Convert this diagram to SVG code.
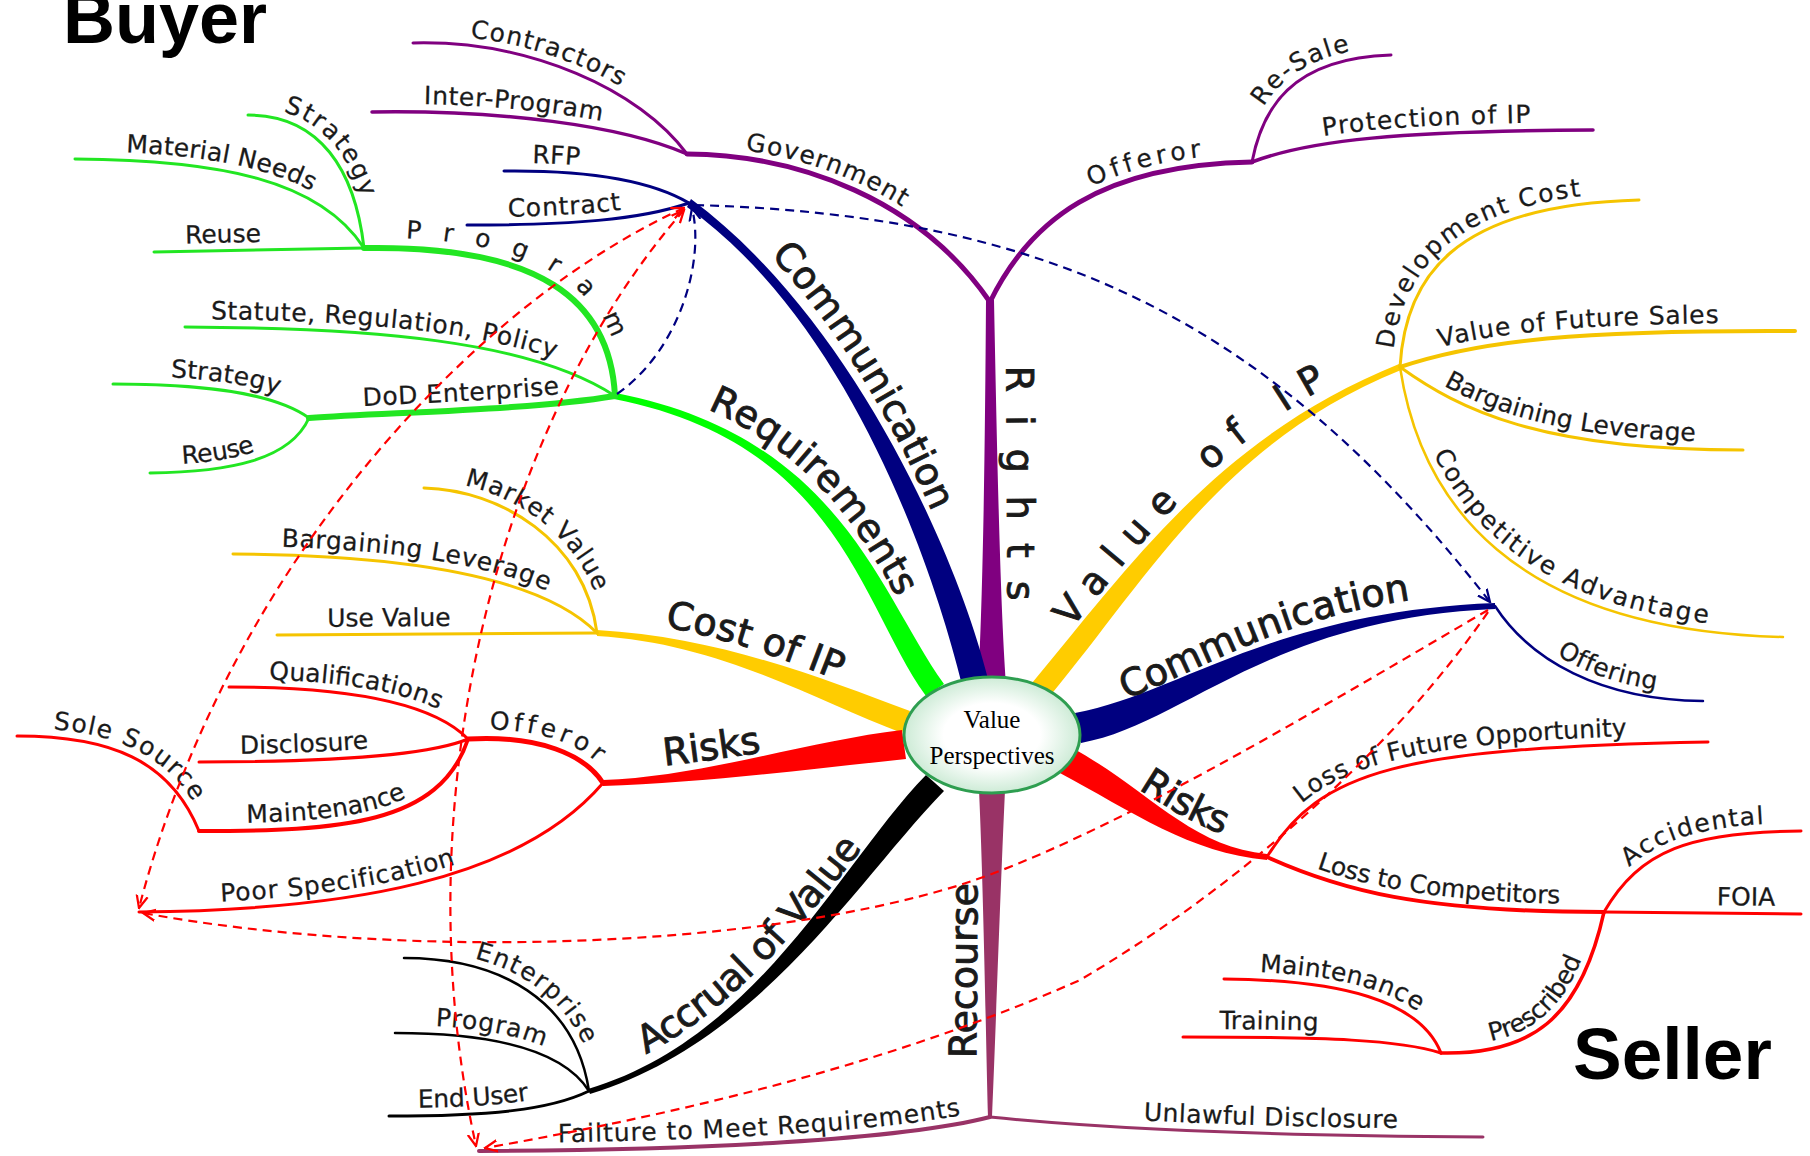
<svg xmlns="http://www.w3.org/2000/svg" width="1810" height="1156" viewBox="0 0 1810 1156">
<style>
.b{fill:none;stroke-linecap:round}
.pu{stroke:#800080}.rc{stroke:#993366}.nv{stroke:#000080}.gr{stroke:#22e622}.ye{stroke:#f5c400}.rd{stroke:#ff0000}.bk{stroke:#000}
.fpu{fill:#800080}.frc{fill:#993366}.fnv{fill:#000080}.fgr{fill:#00ff00}.fye{fill:#ffcc00}.frd{fill:#ff0000}.fbk{fill:#000}
.t{font-family:"DejaVu Sans",sans-serif;font-size:25px;fill:#1a1a1a;stroke:#1a1a1a;stroke-width:0.25}
.m{font-size:38px;stroke-width:0.9}
.d{fill:none;stroke-width:2.2;stroke-dasharray:9 6}
.big{font-family:"Liberation Sans",Arial,sans-serif;font-weight:bold;fill:#000}
</style>
<defs>
<radialGradient id="cg" cx="50%" cy="50%" r="50%">
<stop offset="0.55" stop-color="#ffffff"/><stop offset="1" stop-color="#cdebd6"/>
</radialGradient>
<marker id="ab" viewBox="0 0 10 10" refX="9" refY="5" markerWidth="14" markerHeight="14" markerUnits="userSpaceOnUse" orient="auto-start-reverse"><path d="M0,1 L9,5 L0,9" fill="none" stroke="#000080" stroke-width="1.6"/></marker>
<marker id="ar" viewBox="0 0 10 10" refX="9" refY="5" markerWidth="14" markerHeight="14" markerUnits="userSpaceOnUse" orient="auto-start-reverse"><path d="M0,1 L9,5 L0,9" fill="none" stroke="#ff0000" stroke-width="1.6"/></marker>
<path id="c-commL" d="M689,203 C850,320 945,560 975,682"/>
<path id="c-req" d="M615,396 C840,440 870,600 935,690"/>
<path id="c-cost" d="M597,633 C720,640 820,690 906,722"/>
<path id="c-riskL" d="M603,783 C700,780 810,755 904,745"/>
<path id="c-accr" d="M589,1091 C760,1040 850,870 935,783"/>
<path id="c-rights" d="M990,302 L992,680"/>
<path id="c-recourse" d="M990,1117 L992,792"/>
<path id="c-vip" d="M1040,690 C1140,570 1220,440 1400,367"/>
<path id="c-commR" d="M1078,728 C1180,710 1270,615 1495,606"/>
<path id="c-riskR" d="M1065,760 C1140,800 1190,850 1267,857"/>
</defs>

<text class="big" x="63" y="43" font-size="72">Buyer</text>
<text class="big" x="1573" y="1079" font-size="73">Seller</text>

<!-- Rights (purple) -->
<g id="rights">
<path class="fpu" d="M986,300 L994,300 C997,450 1000,600 1006,684 L978,684 C983,600 985,450 986,300 Z"/>
<text class="t m" font-size="34" letter-spacing="23" dy="-16" text-anchor="middle"><textPath href="#c-rights" startOffset="51%">Rights</textPath></text>
</g>
<g id="government">
<path id="p-gov" class="b pu" stroke-width="5" d="M687,154 C800,155 920,200 990,302"/>
<text class="t" dy="-8" text-anchor="middle" letter-spacing="1"><textPath href="#p-gov" startOffset="40%">Government</textPath></text>
</g>
<g id="contractors">
<path id="p-contr" class="b pu" stroke-width="3" d="M413,43 C530,40 640,90 687,154"/>
<text class="t" dy="-8" text-anchor="middle" letter-spacing="1"><textPath href="#p-contr" startOffset="44%">Contractors</textPath></text>
</g>
<g id="inter-program">
<path id="p-inter" class="b pu" stroke-width="3.5" d="M372,112 C500,110 620,125 687,154"/>
<text class="t" dy="-8" text-anchor="middle" letter-spacing="0.5"><textPath href="#p-inter" startOffset="44%">Inter-Program</textPath></text>
</g>
<g id="offeror-rights">
<path id="p-offR" class="b pu" stroke-width="5" d="M990,302 C1030,220 1100,165 1252,162"/>
<text class="t" dy="-8" text-anchor="middle" letter-spacing="4"><textPath href="#p-offR" startOffset="67%">Offeror</textPath></text>
</g>
<g id="re-sale">
<path id="p-resale" class="b pu" stroke-width="3" d="M1252,162 C1262,110 1290,58 1391,55"/>
<text class="t" dy="-8" text-anchor="middle" letter-spacing="1"><textPath href="#p-resale" startOffset="54%">Re-Sale</textPath></text>
</g>
<g id="protection-of-ip">
<path id="p-prot" class="b pu" stroke-width="3.5" d="M1252,162 C1310,140 1400,131 1593,130"/>
<text class="t" dy="-8" text-anchor="middle" letter-spacing="1.2"><textPath href="#p-prot" startOffset="52%">Protection of IP</textPath></text>
</g>

<!-- Recourse -->
<g id="recourse">
<path class="frc" d="M979,790 L1005,790 C1000,900 995,1050 992,1117 L988,1117 C986,1050 984,900 979,790 Z"/>
<text class="t m" dy="-14" text-anchor="middle"><textPath href="#c-recourse" startOffset="45%">Recourse</textPath></text>
</g>
<g id="failture">
<path id="p-fail" class="b rc" stroke-width="4" d="M479,1151 C700,1150 900,1140 990,1117"/>
<text class="t" dy="-8" text-anchor="middle" letter-spacing="1"><textPath href="#p-fail" startOffset="55%">Failture to Meet Requirements</textPath></text>
</g>
<g id="unlawful-disclosure">
<path id="p-unl" class="b rc" stroke-width="3" d="M990,1117 C1070,1125 1200,1135 1483,1137"/>
<text class="t" dy="-8" text-anchor="middle" letter-spacing="0.5"><textPath href="#p-unl" startOffset="57%">Unlawful Disclosure</textPath></text>
</g>

<!-- Communication (left) -->
<g id="communication-left">
<path class="fnv" d="M988,679 C958,557 852,318 691,199 L687,207 C848,322 932,563 962,685 Z"/>
<text class="t m" dy="-15" text-anchor="middle"><textPath href="#c-commL" startOffset="43%">Communication</textPath></text>
</g>
<g id="rfp">
<path id="p-rfp" class="b nv" stroke-width="3" d="M504,171 C590,170 650,180 689,203"/>
<text class="t" dy="-8" text-anchor="middle"><textPath href="#p-rfp" startOffset="27%">RFP</textPath></text>
</g>
<g id="contract">
<path id="p-contract" class="b nv" stroke-width="3" d="M467,225 C570,225 640,220 689,203"/>
<text class="t" dy="-8" text-anchor="middle" letter-spacing="1"><textPath href="#p-contract" startOffset="44%">Contract</textPath></text>
</g>

<!-- Requirements -->
<g id="requirements">
<path class="fgr" d="M944,684 C879,594 841,437 616,393 L614,399 C839,443 861,606 926,696 Z"/>
<text class="t m" dy="-14" text-anchor="middle"><textPath href="#c-req" startOffset="49%">Requirements</textPath></text>
</g>
<g id="program">
<path id="p-program" class="b gr" stroke-width="6" d="M364,248 C540,245 610,300 615,396"/>
<text class="t" dy="-10" text-anchor="middle" letter-spacing="21"><textPath href="#p-program" startOffset="51%">Program</textPath></text>
</g>
<g id="reuse-1">
<path id="p-reuse1" class="b gr" stroke-width="3" d="M154,252 L364,248"/>
<text class="t" dy="-8" text-anchor="middle"><textPath href="#p-reuse1" startOffset="33%">Reuse</textPath></text>
</g>
<g id="material-needs">
<path id="p-mat" class="b gr" stroke-width="3" d="M75,159 C220,160 320,180 364,248"/>
<text class="t" dy="-8" text-anchor="middle"><textPath href="#p-mat" startOffset="46%">Material Needs</textPath></text>
</g>
<g id="strategy-1">
<path id="p-strat1" class="b gr" stroke-width="3" d="M248,115 C320,115 355,170 364,248"/>
<text class="t" dy="-8" text-anchor="middle" letter-spacing="1"><textPath href="#p-strat1" startOffset="46%">Strategy</textPath></text>
</g>
<g id="statute">
<path id="p-stat" class="b gr" stroke-width="3" d="M185,327 C370,328 530,340 615,396"/>
<text class="t" dy="-8" text-anchor="middle" letter-spacing="0.6"><textPath href="#p-stat" startOffset="45%">Statute, Regulation, Policy</textPath></text>
</g>
<g id="dod-enterprise">
<path id="p-dod" class="b gr" stroke-width="6" d="M309,418 C400,412 530,410 615,396"/>
<text class="t" dy="-9" text-anchor="middle" letter-spacing="0.5"><textPath href="#p-dod" startOffset="50%">DoD Enterprise</textPath></text>
</g>
<g id="strategy-2">
<path id="p-strat2" class="b gr" stroke-width="3" d="M113,384 C190,384 270,390 309,418"/>
<text class="t" dy="-8" text-anchor="middle"><textPath href="#p-strat2" startOffset="55%">Strategy</textPath></text>
</g>
<g id="reuse-2">
<path id="p-reuse2" class="b gr" stroke-width="3" d="M150,473 C230,472 290,460 309,418"/>
<text class="t" dy="-8" text-anchor="middle"><textPath href="#p-reuse2" startOffset="40%">Reuse</textPath></text>
</g>

<!-- Cost of IP -->
<g id="cost-of-ip">
<path class="fye" d="M910,711 C824,679 720,637 597,630 L597,636 C720,643 816,701 902,733 Z"/>
<text class="t m" dy="-14" text-anchor="middle"><textPath href="#c-cost" startOffset="48%">Cost of IP</textPath></text>
</g>
<g id="use-value">
<path id="p-use" class="b ye" stroke-width="3" d="M277,635 L597,633"/>
<text class="t" dy="-8" text-anchor="middle"><textPath href="#p-use" startOffset="35%">Use Value</textPath></text>
</g>
<g id="bargaining-leverage-left">
<path id="p-bargL" class="b ye" stroke-width="3" d="M233,554 C400,555 540,575 597,633"/>
<text class="t" dy="-8" text-anchor="middle" letter-spacing="0.5"><textPath href="#p-bargL" startOffset="48%">Bargaining Leverage</textPath></text>
</g>
<g id="market-value">
<path id="p-market" class="b ye" stroke-width="3" d="M424,488 C500,490 585,540 597,633"/>
<text class="t" dy="-8" text-anchor="middle" letter-spacing="0.5"><textPath href="#p-market" startOffset="50%">Market Value</textPath></text>
</g>

<!-- Risks (left) -->
<g id="risks-left">
<path class="frd" d="M902,730 C808,741 700,777 603,780 L603,786 C700,783 812,769 906,759 Z"/>
<text class="t m" dy="-13" text-anchor="middle"><textPath href="#c-riskL" startOffset="37%">Risks</textPath></text>
</g>
<g id="offeror-left">
<path id="p-offL" class="b rd" stroke-width="5" d="M468,739 C540,735 585,755 603,783"/>
<text class="t" dy="-9" text-anchor="middle" letter-spacing="3.5"><textPath href="#p-offL" startOffset="52%">Offeror</textPath></text>
</g>
<g id="qualifications">
<path id="p-qual" class="b rd" stroke-width="3" d="M229,687 C340,687 430,700 468,739"/>
<text class="t" dy="-8" text-anchor="middle"><textPath href="#p-qual" startOffset="50%">Qualifications</textPath></text>
</g>
<g id="disclosure">
<path id="p-discl" class="b rd" stroke-width="3" d="M199,762 C330,762 430,755 468,739"/>
<text class="t" dy="-8" text-anchor="middle"><textPath href="#p-discl" startOffset="39%">Disclosure</textPath></text>
</g>
<g id="maintenance-left">
<path id="p-maintL" class="b rd" stroke-width="4" d="M199,831 C340,831 440,825 468,739"/>
<text class="t" dy="-8" text-anchor="middle" letter-spacing="0.5"><textPath href="#p-maintL" startOffset="43%">Maintenance</textPath></text>
</g>
<g id="sole-source">
<path id="p-sole" class="b rd" stroke-width="3" d="M17,736 C110,736 170,760 199,831"/>
<text class="t" dy="-8" text-anchor="middle" letter-spacing="1"><textPath href="#p-sole" startOffset="52%">Sole Source</textPath></text>
</g>
<g id="poor-specification">
<path id="p-poor" class="b rd" stroke-width="3" d="M139,912 C350,910 520,880 603,783"/>
<text class="t" dy="-8" text-anchor="middle" letter-spacing="1"><textPath href="#p-poor" startOffset="41%">Poor Specification</textPath></text>
</g>

<!-- Accrual of Value -->
<g id="accrual-of-value">
<path class="fbk" d="M926,775 C841,862 759,1038 588,1089 L590,1094 C761,1042 859,878 944,791 Z"/>
<text class="t m" dy="-13" text-anchor="middle"><textPath href="#c-accr" startOffset="47%">Accrual of Value</textPath></text>
</g>
<g id="enterprise">
<path id="p-ent" class="b bk" stroke-width="2.5" d="M404,958 C500,958 575,1000 589,1091"/>
<text class="t" dy="-8" text-anchor="middle" letter-spacing="1"><textPath href="#p-ent" startOffset="55%">Enterprise</textPath></text>
</g>
<g id="program-bottom">
<path id="p-progB" class="b bk" stroke-width="2.5" d="M395,1033 C480,1033 560,1045 589,1091"/>
<text class="t" dy="-8" text-anchor="middle" letter-spacing="0.5"><textPath href="#p-progB" startOffset="45%">Program</textPath></text>
</g>
<g id="end-user">
<path id="p-end" class="b bk" stroke-width="3" d="M389,1116 C490,1116 550,1110 589,1091"/>
<text class="t" dy="-8" text-anchor="middle"><textPath href="#p-end" startOffset="42%">End User</textPath></text>
</g>

<!-- Value of IP -->
<g id="value-of-ip">
<path class="fye" d="M1049,697 C1149,577 1221,443 1401,370 L1399,364 C1219,437 1132,563 1032,683 Z"/>
<text class="t m" dy="-14" text-anchor="middle" letter-spacing="15"><textPath href="#c-vip" startOffset="51%">Value of IP</textPath></text>
</g>
<g id="development-cost">
<path id="p-dev" class="b ye" stroke-width="3" d="M1400,367 C1405,280 1450,205 1639,200"/>
<text class="t" dy="-8" text-anchor="middle" letter-spacing="1.5"><textPath href="#p-dev" startOffset="44%">Development Cost</textPath></text>
</g>
<g id="value-of-future-sales">
<path id="p-vfs" class="b ye" stroke-width="4" d="M1400,367 C1480,340 1580,330 1795,331"/>
<text class="t" dy="-8" text-anchor="middle" letter-spacing="0.8"><textPath href="#p-vfs" startOffset="46%">Value of Future Sales</textPath></text>
</g>
<g id="bargaining-leverage-right">
<path id="p-bargR" class="b ye" stroke-width="3" d="M1400,367 C1460,410 1540,450 1743,450"/>
<text class="t" dy="-8" text-anchor="middle" letter-spacing="0.3"><textPath href="#p-bargR" startOffset="50%">Bargaining Leverage</textPath></text>
</g>
<g id="competitive-advantage">
<path id="p-comp" class="b ye" stroke-width="2.5" d="M1400,367 C1420,500 1510,630 1783,637"/>
<text class="t" dy="-8" text-anchor="middle" letter-spacing="2.5"><textPath href="#p-comp" startOffset="52%">Competitive Advantage</textPath></text>
</g>

<!-- Communication (right) -->
<g id="communication-right">
<path class="fnv" d="M1081,743 C1183,725 1270,618 1495,609 L1495,603 C1270,612 1177,695 1075,713 Z"/>
<text class="t m" dy="-14" text-anchor="middle"><textPath href="#c-commR" startOffset="47%">Communication</textPath></text>
</g>
<g id="offering">
<path id="p-offering" class="b nv" stroke-width="2.5" d="M1495,606 C1530,660 1600,700 1703,701"/>
<text class="t" dy="-8" text-anchor="middle" letter-spacing="1"><textPath href="#p-offering" startOffset="57%">Offering</textPath></text>
</g>

<!-- Risks (right) -->
<g id="risks-right">
<path class="frd" d="M1058,772 C1133,812 1190,853 1267,860 L1267,854 C1190,847 1147,788 1072,748 Z"/>
<text class="t m" dy="-13" text-anchor="middle"><textPath href="#c-riskR" startOffset="56%">Risks</textPath></text>
</g>
<g id="loss-of-future-opportunity">
<path id="p-lfo" class="b rd" stroke-width="3" d="M1267,857 C1320,770 1400,748 1708,742"/>
<text class="t" dy="-8" text-anchor="middle"><textPath href="#p-lfo" startOffset="48%">Loss of Future Opportunity</textPath></text>
</g>
<g id="loss-to-competitors">
<path id="p-ltc" class="b rd" stroke-width="4" d="M1267,857 C1340,890 1420,912 1604,912"/>
<text class="t" dy="-8" text-anchor="middle"><textPath href="#p-ltc" startOffset="51%">Loss to Competitors</textPath></text>
</g>
<g id="foia">
<path id="p-foia" class="b rd" stroke-width="3" d="M1604,912 L1801,914"/>
<text class="t" dy="-8" text-anchor="middle"><textPath href="#p-foia" startOffset="72%">FOIA</textPath></text>
</g>
<g id="accidental">
<path id="p-acc" class="b rd" stroke-width="3" d="M1604,912 C1640,850 1690,832 1801,831"/>
<text class="t" dy="-8" text-anchor="middle" letter-spacing="1"><textPath href="#p-acc" startOffset="53%">Accidental</textPath></text>
</g>
<g id="prescribed">
<path id="p-presc" class="b rd" stroke-width="3.5" d="M1441,1053 C1530,1055 1580,1020 1604,912"/>
<text class="t" dy="-8" text-anchor="middle" letter-spacing="0.5"><textPath href="#p-presc" startOffset="50%">Prescribed</textPath></text>
</g>
<g id="maintenance-right">
<path id="p-maintR" class="b rd" stroke-width="3" d="M1224,979 C1340,980 1420,1000 1441,1053"/>
<text class="t" dy="-8" text-anchor="middle"><textPath href="#p-maintR" startOffset="48%">Maintenance</textPath></text>
</g>
<g id="training">
<path id="p-train" class="b rd" stroke-width="3" d="M1183,1037 C1330,1037 1400,1040 1441,1053"/>
<text class="t" dy="-8" text-anchor="middle"><textPath href="#p-train" startOffset="33%">Training</textPath></text>
</g>

<!-- connectors -->
<g id="connectors">
<path class="d" stroke="#000080" marker-end="url(#ab)" d="M617,394 C680,350 705,260 692,208"/>
<path class="d" stroke="#000080" marker-end="url(#ab)" d="M695,205 C1050,215 1270,320 1490,602"/>
<path class="d" stroke="#ff0000" marker-start="url(#ar)" marker-end="url(#ar)" d="M684,208 C480,300 230,560 139,908"/>
<path class="d" stroke="#ff0000" marker-start="url(#ar)" marker-end="url(#ar)" d="M684,210 C500,420 400,800 476,1146"/>
<path class="d" stroke="#ff0000" marker-end="url(#ar)" d="M1488,610 C1300,720 1100,840 960,885 C750,950 400,960 143,913"/>
<path class="d" stroke="#ff0000" marker-end="url(#ar)" d="M1488,612 C1400,740 1250,880 1080,980 C900,1060 700,1110 485,1148"/>
</g>

<!-- central node -->
<g id="value-perspectives">
<ellipse cx="992" cy="735" rx="88" ry="58" fill="url(#cg)" stroke="#2e9e50" stroke-width="3"/>
<text x="992" y="728" text-anchor="middle" font-family="Liberation Serif,serif" font-size="25" fill="#000">Value</text>
<text x="992" y="764" text-anchor="middle" font-family="Liberation Serif,serif" font-size="25" fill="#000">Perspectives</text>
</g>
</svg>
